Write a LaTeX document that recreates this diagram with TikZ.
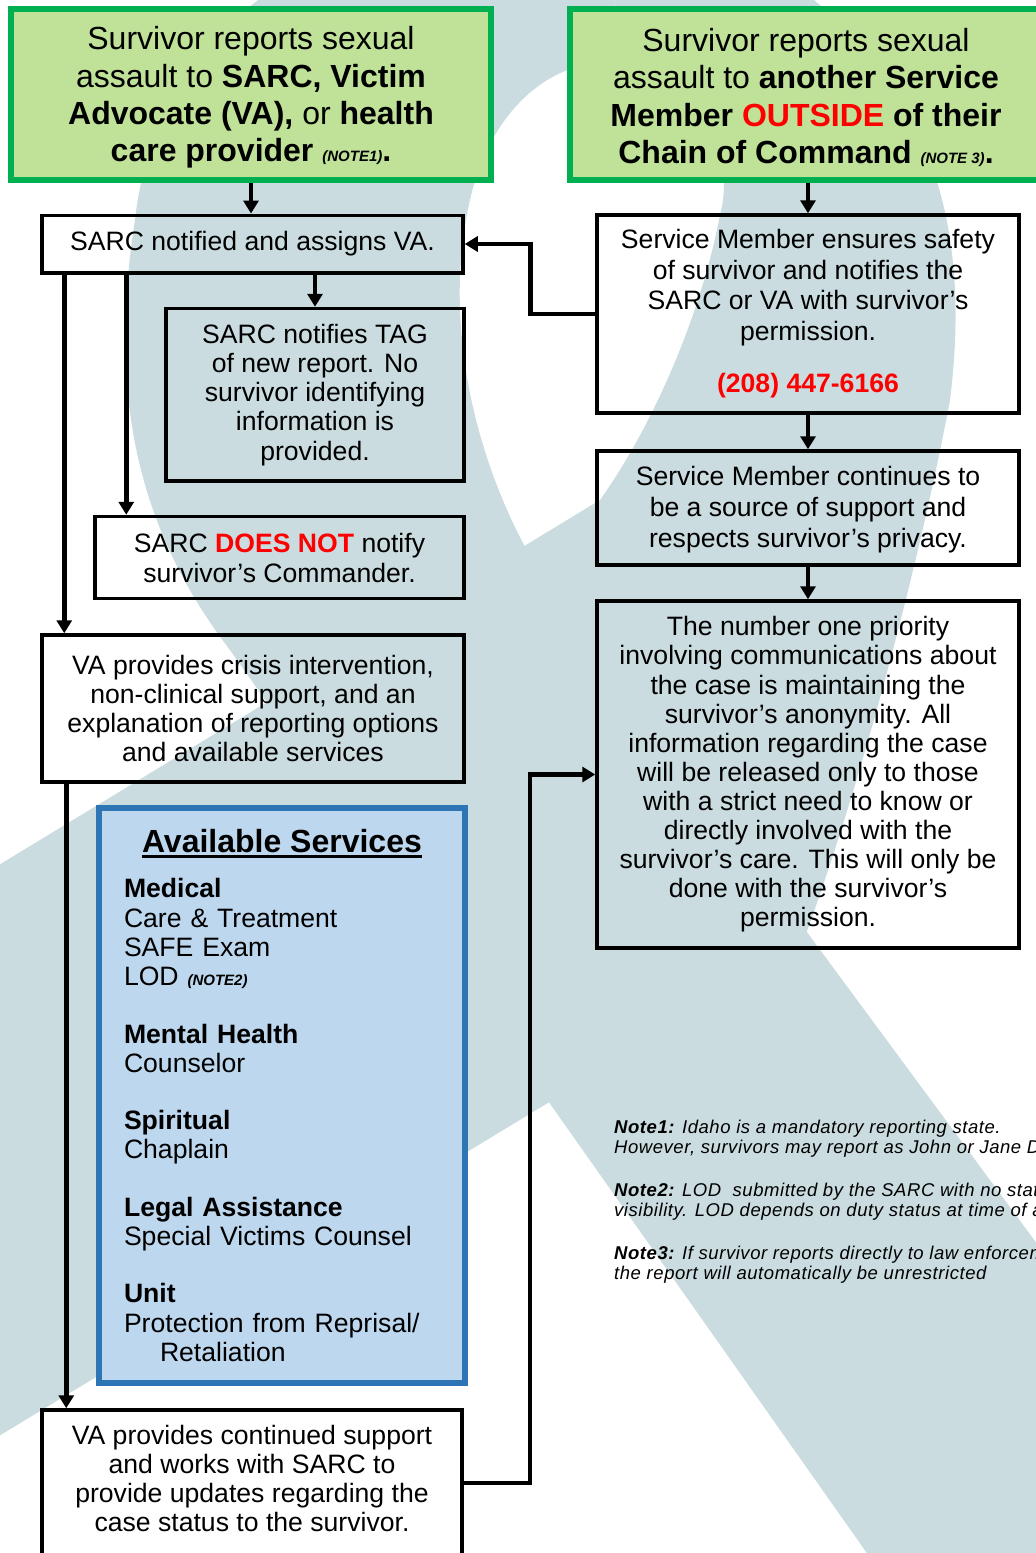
\documentclass[tikz,border=0pt]{standalone}
\usepackage{fontspec}
\setmainfont{Liberation Sans}
\usepackage{tikz}
\usetikzlibrary{positioning,arrows.meta}
\definecolor{ribbon}{RGB}{202,220,224}
\definecolor{gfill}{RGB}{192,225,152}
\definecolor{gline}{RGB}{0,176,80}
\definecolor{bfill}{RGB}{189,215,238}
\definecolor{bline}{RGB}{46,117,182}
\newcommand{\thickul}[1]{\setbox0\hbox{#1}\rlap{\rule[-5pt]{\wd0}{2.5pt}}\box0}
\newcommand{\notetag}[1]{{\fontsize{15}{15}\selectfont\bfseries\itshape #1}}

\begin{document}
\begin{tikzpicture}[
			x=1pt, y=-1pt
			,every node/.append style={inner sep=0pt, align=center}
			,w/.style={draw, line width=3.5pt, font=\fontsize{26.6}{29}\selectfont}
			,g/.style={draw=gline, fill=gfill, line width=6pt, font=\fontsize{32}{37.3}\selectfont}
			,bl/.style={draw=bline, fill=bfill, line width=6pt, align=left, font=\fontsize{26.6}{29.3}\selectfont}
			,arr/.style={line width=4.5pt, -{Triangle[width=15pt,length=13pt]}}
		]
			\useasboundingbox (0,0) rectangle (1036,1553);
			\clip (0,0) rectangle (1036,1553);
			\fill[ribbon] (520,-100) .. controls (250,-60) and (150,80) .. (135,220)
				.. controls (110,380) and (130,520) .. (230,650)
				-- (900,1600) -- (1300,1600) -- (533,561)
				.. controls (480,470) and (440,330) .. (470,200)
				.. controls (490,110) and (550,64) .. (600,64)
				-- (640,-100) -- cycle;
			\fill[ribbon] (600,64) .. controls (680,64) and (740,140) .. (720,215)
				.. controls (700,320) and (650,430) .. (600,500)
				-- (-100,925) -- (-100,1496) -- (800,950)
				.. controls (860,790) and (920,560) .. (950,400)
				.. controls (965,280) and (950,180) .. (900,100)
				.. controls (850,20) and (760,-60) .. (640,-100) -- cycle;

			\node [g, minimum width=480pt, minimum height=171pt] (RL) at (251,94.5)
				{\rule{0pt}{29pt}Survivor reports sexual\\
				assault to \textbf{SARC, Victim}\\
				\textbf{Advocate (VA),} or \textbf{health}\\
				\textbf{care provider} \notetag{(NOTE1)}\textbf{.}};
			\node [g, minimum width=472pt, minimum height=171pt] (RR) at (806,94.5)
				{\rule{0pt}{29pt}Survivor reports sexual\\
				assault to \textbf{another Service}\\
				\textbf{Member \textcolor{red}{OUTSIDE} of their}\\
				\textbf{Chain of Command} \notetag{(NOTE 3)}\textbf{.}};

			\node [w, minimum width=421pt, minimum height=57.5pt] (SARC) at (252.5,244)
				{SARC notified and assigns VA.};
			\node [w, minimum width=298pt, minimum height=172.5pt, font=\fontsize{26.6}{29.25}\selectfont] (TAG) at (315,394.75)
				{SARC notifies TAG\\ of new report. No\\ survivor identifying\\ information is\\ provided.};
			\node [w, minimum width=369pt, minimum height=82pt, font=\fontsize{26.6}{30}\selectfont] (NOT) at (279.5,557.5)
				{SARC \textbf{\textcolor{red}{DOES NOT}} notify\\ survivor’s Commander.};
			\node [w, minimum width=422pt, minimum height=147pt] (VA) at (253,708.5)
				{VA provides crisis intervention,\\ non-clinical support, and an\\ explanation of reporting options\\ and available services};
			\node [bl, minimum width=366pt, minimum height=575pt, text width=316pt] (SERV) at (282,1095.5)
				{\makebox[316pt]{\fontsize{32}{32}\selectfont\bfseries\thickul{Available Services}}\\[16pt]
				\textbf{Medical}\\
				Care \& Treatment\\
				SAFE Exam\\
				LOD \notetag{(NOTE2)}\\[28pt]
				\textbf{Mental Health}\\
				Counselor\\[28pt]
				\textbf{Spiritual}\\
				Chaplain\\[28pt]
				\textbf{Legal Assistance}\\
				Special Victims Counsel\\[28pt]
				\textbf{Unit}\\
				Protection from Reprisal/\\
				\hspace*{36pt}Retaliation};
			\node [w, minimum width=420pt, minimum height=160pt, text depth=23.5pt] (CONT) at (252,1490)
				{VA provides continued support\\ and works with SARC to\\ provide updates regarding the\\ case status to the survivor.};

			\node [w, minimum width=422pt, minimum height=198pt, font=\fontsize{26.6}{30.5}\selectfont] (SM) at (808,314)
				{Service Member ensures safety\\ of survivor and notifies the\\ SARC or VA with survivor’s\\ permission.\\[22pt]
				\textbf{\textcolor{red}{(208) 447-6166}}};
			\node [w, minimum width=422pt, minimum height=114pt, font=\fontsize{26.6}{31}\selectfont, below=34.5pt of SM] (SUP)
				{\rule{0pt}{23pt}Service Member continues to\\ be a source of support and\\ respects survivor’s privacy.};
			\node [w, minimum width=422pt, minimum height=347pt, font=\fontsize{26.6}{29.1}\selectfont, below=32.5pt of SUP] (PRI)
				{The number one priority\\ involving communications about\\ the case is maintaining the\\ survivor’s anonymity. All\\ information regarding the case\\ will be released only to those\\ with a strict need to know or\\ directly involved with the\\ survivor’s care. This will only be\\ done with the survivor’s\\ permission.};

			\node [anchor=north west, align=left, font=\fontsize{18.5}{20}\selectfont\itshape\addfontfeatures{LetterSpace=3}] (NOTES) at (614,1120)
				{\textbf{Note1:} Idaho is a mandatory reporting state.\\
				However, survivors may report as John or Jane Doe\\[23pt]
				\textbf{Note2:} LOD\ \ submitted by the SARC with no status\\
				visibility. LOD depends on duty status at time of assault\\[23pt]
				\textbf{Note3:} If survivor reports directly to law enforcement\\
				the report will automatically be unrestricted};

			\coordinate (n1) at ([xshift=33pt]NOT.north west);
			\coordinate (v1) at ([xshift=24pt]VA.north west);
			\coordinate (c1) at ([xshift=26pt]CONT.north west);

			\draw [arr] (RL.south) -- (RL.south |- SARC.north);
			\draw [arr] (SM.north |- RR.south) -- (SM.north);
			\draw [arr] (TAG.north |- SARC.south) -- (TAG.north);
			\draw [arr] (n1 |- SARC.south) -- (n1);
			\draw [arr] (v1 |- SARC.south) -- (v1);
			\draw [arr] (c1 |- VA.south) -- (c1);
			\draw [arr] (SM.west) -- ++(-65,0) |- (SARC.east);
			\draw [arr] (SM.south) -- (SUP.north);
			\draw [arr] (SUP.south) -- (PRI.north);
			\draw [arr] ([yshift=7pt]CONT.east) -- ++(66,0) |- (PRI.west);
		\end{tikzpicture}
\end{document}
